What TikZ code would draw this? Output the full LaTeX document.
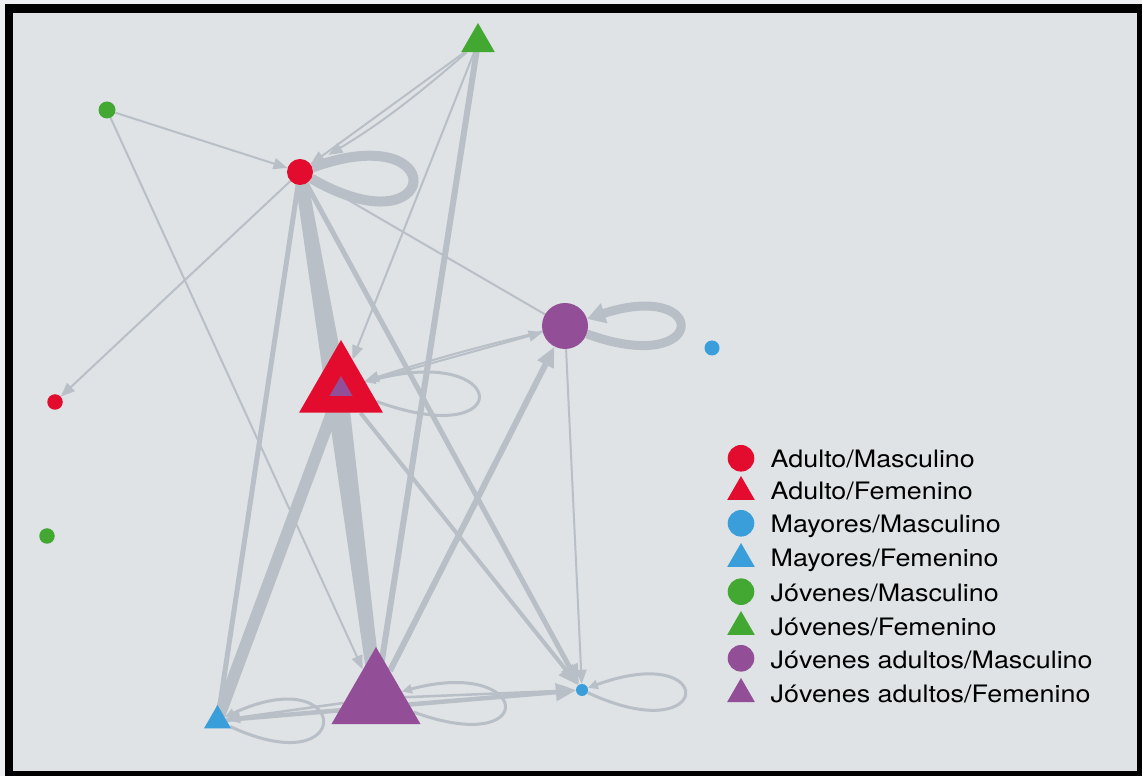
\documentclass[tikz,border=0pt]{standalone}
\usepackage{fontspec}
\setmainfont[FakeStretch=1.12]{TeX Gyre Heros}
\usetikzlibrary{arrows.meta,shapes.geometric}

\definecolor{cRed}{HTML}{E40C2E}
\definecolor{cBlue}{HTML}{3A9EDB}
\definecolor{cGreen}{HTML}{43A831}
\definecolor{cPurple}{HTML}{924F97}
\definecolor{cEdge}{HTML}{B8BFC6}
\definecolor{cPanel}{HTML}{DFE3E6}
\definecolor{cPage}{HTML}{EDEFF0}

\pgfdeclarelayer{bg}
\pgfdeclarelayer{edges}
\pgfsetlayers{bg,edges,main}

\begin{document}
\begin{tikzpicture}[x=1pt,y=1pt,
  vdot/.style={circle,inner sep=0pt,minimum size=#1},
  vtri/.style={regular polygon,regular polygon sides=3,inner sep=0pt,minimum size=#1},
  link/.style={draw=cEdge,line width=#1},
  tipS/.style={-{Triangle[length=14pt,width=11pt]}},
  tipM/.style={-{Triangle[length=20pt,width=17pt]}},
  tipL/.style={-{Triangle[length=10pt,width=9pt]}},
  tipJ/.style={-{Triangle[length=18pt,width=20pt]}},
  legtext/.style={anchor=base west,inner sep=0pt,font=\fontsize{24}{28}\selectfont},
]
\useasboundingbox (0,0) rectangle (1142,776);

% vertices
\node[vtri=39pt,fill=cGreen]   (JF)   at (478,733.5) {};
\node[vdot=17pt,fill=cGreen]   (JM1)  at (107,666) {};
\node[vdot=26pt,fill=cRed]     (AM)   at (300,604) {};
\node[vdot=46pt,fill=cPurple]  (JAM)  at (565,450) {};
\node[vdot=15pt,fill=cBlue]    (MMr)  at (712,428) {};
\node[vdot=15.5pt,fill=cRed]   (AMl)  at (55,374) {};
\node[vdot=15.5pt,fill=cGreen] (JMl)  at (47,240) {};
\node[vtri=97pt,fill=cRed]     (AF)   at (341,387.5) {};
\node[vtri=26.6pt,fill=cPurple] (AFin) at (341,386.7) {};
\node[vtri=102.8pt,fill=cPurple] (JAF) at (376,77.6) {};
\node[vtri=31.2pt,fill=cBlue]  (MF)   at (217.5,55.4) {};
\node[vdot=12pt,fill=cBlue]    (MMb)  at (582,86) {};

% legend
\node[vdot=26.6pt,fill=cRed]    (L1) at (741,317.7) {};
\node[vtri=32pt,fill=cRed]      (L2) at (741,284) {};
\node[vdot=26.6pt,fill=cBlue]   (L3) at (741,252.7) {};
\node[vtri=32pt,fill=cBlue]     (L4) at (741,217) {};
\node[vdot=26.6pt,fill=cGreen]  (L5) at (741,184.3) {};
\node[vtri=32pt,fill=cGreen]    (L6) at (741,149) {};
\node[vdot=26.6pt,fill=cPurple] (L7) at (741,117.7) {};
\node[vtri=32pt,fill=cPurple]   (L8) at (741,82) {};
\node[legtext] (T1) at (770.5,308.7) {Adulto/Masculino};
\node[legtext] (T2) at (770.5,276.7) {Adulto/Femenino};
\node[legtext] (T3) at (770.5,243.7) {Mayores/Masculino};
\node[legtext] (T4) at (770.5,209.3) {Mayores/Femenino};
\node[legtext] (T5) at (770.5,174.3) {Jóvenes/Masculino};
\node[legtext] (T6) at (770.5,140) {Jóvenes/Femenino};
\node[legtext] (T7) at (770.5,107.7) {Jóvenes adultos/Masculino};
\node[legtext] (T8) at (770.5,73.7) {Jóvenes adultos/Femenino};

% connectors
\begin{pgfonlayer}{edges}
  % heavy flows (tips hidden under the vertices)
  \draw[link=12pt] (AM.center) -- (AF.center);
  \draw[link=12pt] (AM.center) -- (JAF.center);
  \draw[link=13pt] (AF.center) -- (JAF.center);
  \draw[link=12pt] (AF.center) -- (MF.center);
  \draw[link=5pt]  (AM.center) -- (MF.center);
  \draw[link=6pt]  (JF.center) -- (JAF.center);
  \draw[link=2pt]  (AM.center) -- (JAM.center);
  % directed links
  \draw[link=2pt,tipS] (JM1) -- (AM);
  \draw[link=2pt,tipS] (JM1) -- (JAF);
  \draw[link=2pt,tipS] (JF) -- (AM);
  \draw[link=2pt,tipS,shorten >=20pt] (JF) to[bend left=5] (AM);
  \draw[link=2pt,tipS] (JF) -- (AF);
  \draw[link=2pt,tipS] (AM) -- (AMl);
  \draw[link=5pt,tipM] (AM) -- (MMb);
  \draw[link=4pt,tipM] (AF) -- (MMb);
  \draw[link=2pt,tipS] (AF) -- (JAM);
  \draw[link=2pt,tipS] (JAM) to[bend right=2] (AF);
  \draw[link=2pt,tipS] (JAM) -- (MMb);
  \draw[link=6pt,tipM] (JAF) -- (JAM);
  \draw[link=4.5pt,tipM] (MF) -- (MMb);
  \draw[link=2.5pt,tipS] (JAF) -- (MMb);
  \draw[link=2.5pt,tipS] (JAF) -- (MF);
  % self loops
  \draw[link=10pt] (AM) to[out=-30,in=20,distance=150pt] (AM);
  \draw[link=9pt,tipJ] (JAM) to[out=-20,in=18,distance=130pt] (JAM);
  \draw[link=3pt,tipL] (AF) to[out=-20,in=15,distance=150pt] (AF);
  \draw[link=3pt,tipL] (MF) to[out=-25,in=25,distance=140pt] (MF);
  \draw[link=3pt,tipL] (JAF) to[out=-20,in=15,distance=135pt] (JAF);
  \draw[link=3pt,tipL] (MMb) to[out=-25,in=20,distance=140pt] (MMb);
\end{pgfonlayer}

% frame
\begin{pgfonlayer}{bg}
  \fill[cPage] (0,0) rectangle (1142,776);
  \fill[black] (5,0) rectangle (1142,772);
  \fill[cPanel] (13,5) rectangle (1137,763);
\end{pgfonlayer}
\end{tikzpicture}
\end{document}
